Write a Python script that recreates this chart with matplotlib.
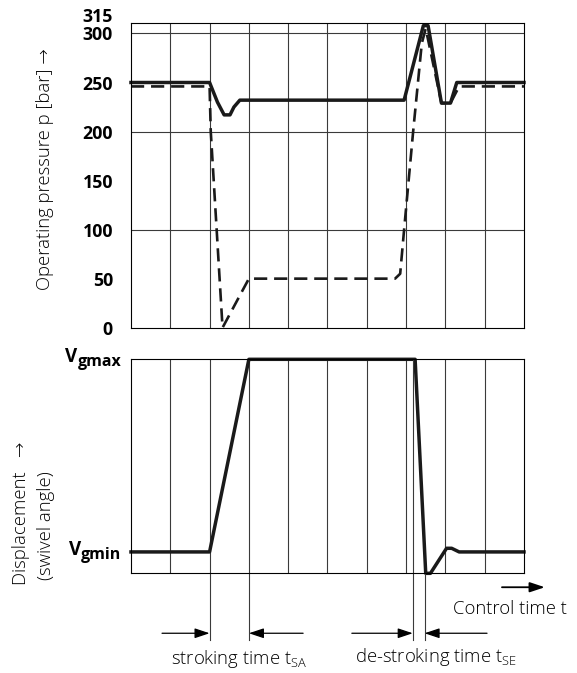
import matplotlib
matplotlib.use("Agg")
import matplotlib.pyplot as plt

plt.rcParams['font.family'] = ['Open Sans', 'DejaVu Sans']
plt.rcParams['mathtext.fontset'] = 'custom'
plt.rcParams['mathtext.rm'] = 'Open Sans'
plt.rcParams['mathtext.it'] = 'Open Sans'
plt.rcParams['mathtext.bf'] = 'Open Sans:bold'

# Druckverlauf (oben)
t_solid = [0, 2.0, 2.2, 2.37, 2.52, 2.62, 2.77, 6.95, 7.44, 7.56, 7.9, 8.13, 8.29, 10]
p_solid = [250, 250, 230, 217, 217, 225, 232, 232, 308, 308, 229, 229, 250, 250]
t_dash = [0, 2.0, 2.03, 2.18, 2.33, 3.0, 6.72, 6.85, 6.95, 7.18, 7.40, 7.5, 7.9, 8.13, 8.35, 10]
p_dash = [246, 246, 200, 100, 0, 50, 50, 55, 100, 200, 290, 305, 229, 229, 246, 246]
p_ticks = [0, 50, 100, 150, 200, 250, 300]
p_top = 315

# Schwenkwinkel (unten)
t_disp = [0, 2, 3, 7.23, 7.5, 7.62, 8.03, 8.16, 8.35, 10]
v_disp = [0.1, 0.1, 1.0, 1.0, 0, 0, 0.117, 0.117, 0.1, 0.1]
v_min, v_max = 0.1, 1.0

# Zeitmarken
t_sa = (2.0, 3.0)
t_se = (7.17, 7.47)

fs = 13.3
grid_c = '#3a3a3a'
fig = plt.figure(figsize=(5.77, 6.73), dpi=100)
ax1 = fig.add_axes([0.227, 0.5131, 0.6811, 0.4532])
ax2 = fig.add_axes([0.227, 0.1481, 0.6811, 0.318])

# oberes Diagramm
ax1.set_xlim(0, 10)
ax1.set_ylim(0, 311)
for x in range(1, 10):
    ax1.axvline(x, color=grid_c, lw=0.8)
for y in [100, 200, 300]:
    ax1.axhline(y, color=grid_c, lw=0.8)
ax1.plot(t_dash, p_dash, color='#1a1a1a', lw=1.9, dashes=(5, 2.6), clip_on=False)
ax1.plot(t_solid, p_solid, color='#1a1a1a', lw=2.5, solid_joinstyle='round', clip_on=False)
ax1.set_xticks([])
ax1.set_yticks(p_ticks)
ax1.set_yticklabels([str(v) for v in p_ticks], fontweight='bold', fontsize=12.8)
ax1.tick_params(axis='y', length=0, pad=13)
ax1.annotate(str(p_top), xy=(0, p_top), xycoords=('axes fraction', 'data'),
             xytext=(-13, 1), textcoords='offset points', ha='right', va='center',
             fontweight='bold', fontsize=12.8, annotation_clip=False)
for s in ax1.spines.values():
    s.set_linewidth(0.8)

# unteres Diagramm
ax2.set_xlim(0, 10)
ax2.set_ylim(0, 1)
for x in range(1, 10):
    ax2.axvline(x, color=grid_c, lw=0.8)
ax2.plot(t_disp, v_disp, color='#1a1a1a', lw=2.5, clip_on=False)
ax2.set_xticks([])
ax2.set_yticks([])
for s in ax2.spines.values():
    s.set_linewidth(0.8)

for yv, sub in [(v_max, 'gmax'), (v_min, 'gmin')]:
    g = ax2.annotate(sub, xy=(0, yv), xycoords=('axes fraction', 'data'),
                     xytext=(-7, -5), textcoords='offset points',
                     ha='right', va='baseline', fontsize=11.5, fontweight='bold')
    ax2.annotate('V', xy=(0, 0), xycoords=g, xytext=(0, 2), textcoords='offset points',
                 ha='right', va='bottom', fontsize=13.5, fontweight='bold')

# Masslinien unter dem Diagramm
y_dim = -0.28
for x in t_sa:
    ax2.plot([x, x], [0, -0.31], color=grid_c, lw=0.8, clip_on=False)
ax2.plot([t_se[0], t_se[0]], [1, -0.31], color=grid_c, lw=0.8, clip_on=False)
ax2.plot([t_se[1], t_se[1]], [0, -0.31], color=grid_c, lw=0.8, clip_on=False)

arr = dict(arrowstyle='-|>,head_length=0.9,head_width=0.3', color='black', lw=0.9,
           shrinkA=0, shrinkB=0)
ax2.annotate('', xy=(t_sa[0], y_dim), xytext=(0.79, y_dim), arrowprops=arr, annotation_clip=False)
ax2.annotate('', xy=(t_sa[1], y_dim), xytext=(4.38, y_dim), arrowprops=arr, annotation_clip=False)
ax2.annotate('', xy=(t_se[0], y_dim), xytext=(5.62, y_dim), arrowprops=arr, annotation_clip=False)
ax2.annotate('', xy=(t_se[1], y_dim), xytext=(9.06, y_dim), arrowprops=arr, annotation_clip=False)
ax2.annotate('', xy=(10.53, -0.065), xytext=(9.44, -0.065),
             arrowprops=dict(arr, lw=1.3), annotation_clip=False)

ax2.text(2.75, -0.40, r'stroking time t$_\mathregular{SA}$', ha='center', va='center',
         fontsize=fs, fontweight='light')
ax2.text(7.76, -0.39, r'de-stroking time t$_\mathregular{SE}$', ha='center', va='center',
         fontsize=fs, fontweight='light')
ax2.text(9.64, -0.165, 'Control time t', ha='center', va='center', fontsize=fs, fontweight='light')

# Achsenbeschriftungen
fig.text(0.078, 0.749, 'Operating pressure p [bar] →', rotation=90,
         ha='center', va='center', fontsize=fs, fontweight='light')
fig.text(21 / 577, 1 - 585 / 673, 'Displacement   →', rotation=90,
         ha='center', va='bottom', fontsize=fs, fontweight='light')
fig.text(46 / 577, 1 - 580 / 673, '(swivel angle)', rotation=90,
         ha='center', va='bottom', fontsize=fs, fontweight='light')

fig.savefig('out.png', dpi=100)
